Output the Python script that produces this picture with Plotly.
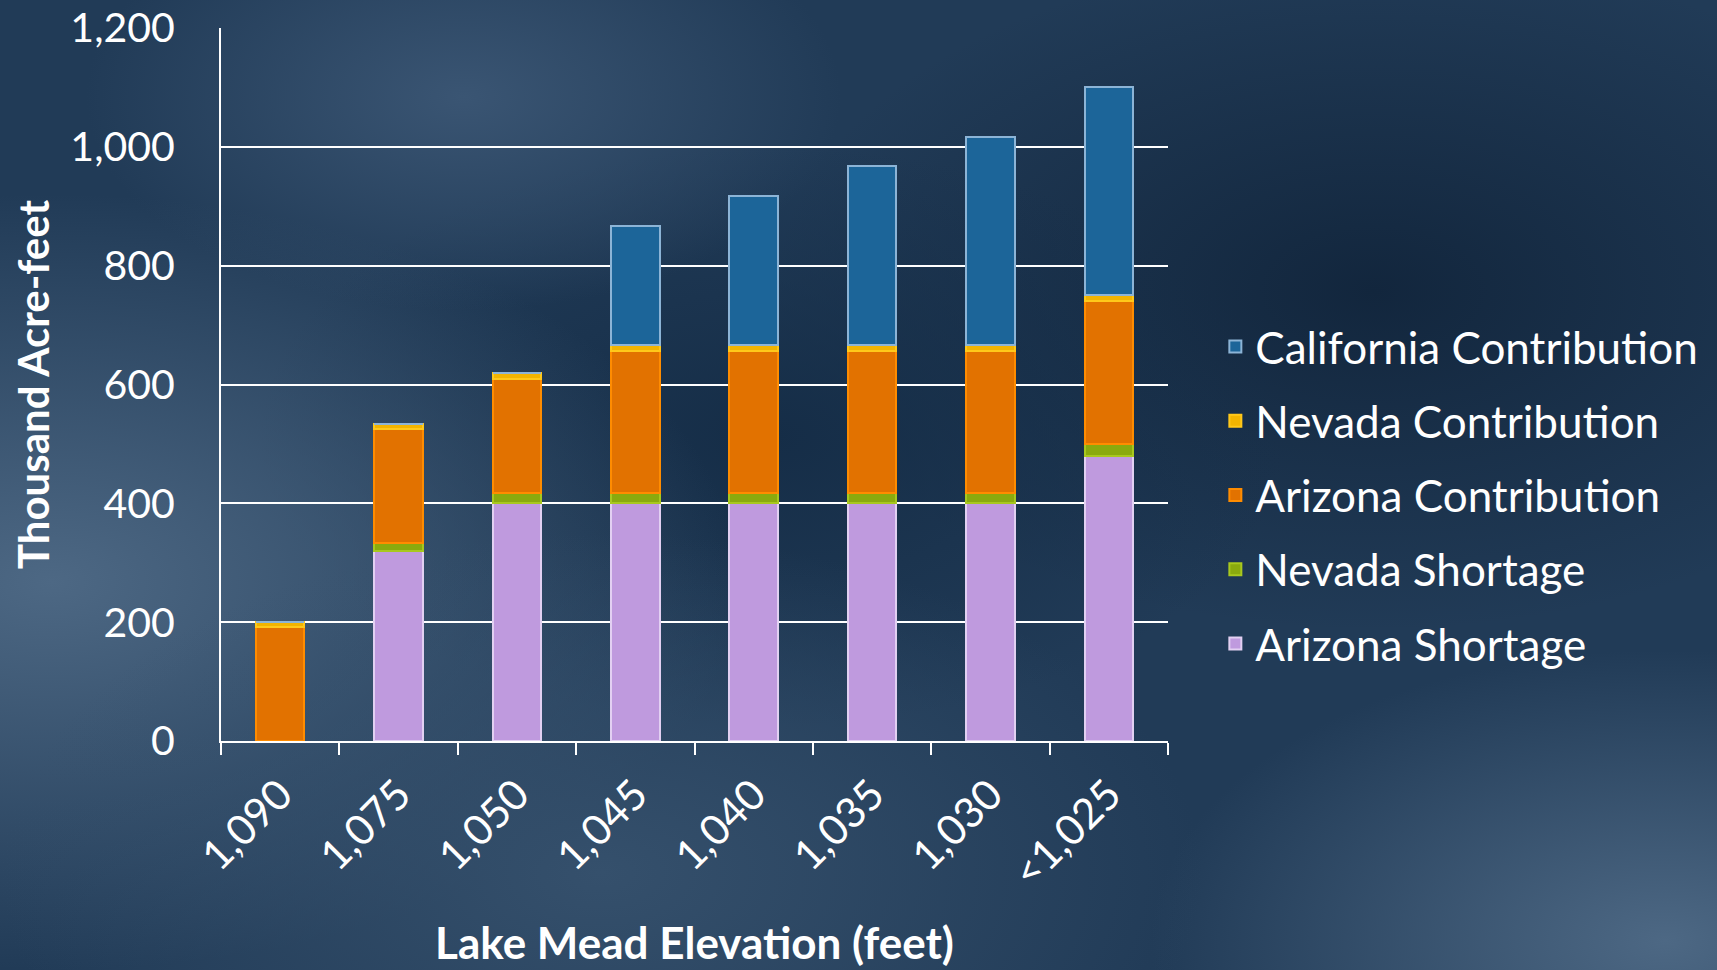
import base64
import plotly.graph_objects as go

categories = ["1,090", "1,075", "1,050", "1,045", "1,040", "1,035", "1,030", "<1,025"]
arizona_shortage = [0, 320, 400, 400, 400, 400, 400, 480]
nevada_shortage = [0, 13, 17, 17, 17, 17, 17, 20]
arizona_contribution = [192, 192, 192, 240, 240, 240, 240, 240]
nevada_contribution = [8, 8, 10, 10, 10, 10, 10, 10]
california_contribution = [0, 0, 0, 200, 250, 300, 350, 350]
y_ticks = [0, 200, 400, 600, 800, 1000, 1200]

series = [
    ("Arizona Shortage", arizona_shortage, "#bf9ade", "#e2d0f2"),
    ("Nevada Shortage", nevada_shortage, "#8aaa0e", "#a8c81e"),
    ("Arizona Contribution", arizona_contribution, "#e27200", "#ff8c00"),
    ("Nevada Contribution", nevada_contribution, "#f2b400", "#ffc81a"),
    ("California Contribution", california_contribution, "#1c6599", "#8cb4d6"),
]

W, H = 1717, 970
ML, MR, MT, MB = 221, 549, 28, 229
PW, PH = W - ML - MR, H - MT - MB

svg = f"""<svg xmlns='http://www.w3.org/2000/svg' width='{W}' height='{H}'>
<defs>
<radialGradient id='a' cx='0.03' cy='0.6' r='0.4'><stop offset='0' stop-color='#4d6884'/><stop offset='1' stop-color='#4d6884' stop-opacity='0'/></radialGradient>
<radialGradient id='b' cx='0.27' cy='0.1' r='0.22'><stop offset='0' stop-color='#3a5573'/><stop offset='1' stop-color='#3a5573' stop-opacity='0'/></radialGradient>
<radialGradient id='c' cx='0.97' cy='0.97' r='0.3'><stop offset='0' stop-color='#4d6884'/><stop offset='1' stop-color='#4d6884' stop-opacity='0'/></radialGradient>
<radialGradient id='d' cx='0.8' cy='0.3' r='0.35'><stop offset='0' stop-color='#12263d'/><stop offset='1' stop-color='#12263d' stop-opacity='0'/></radialGradient>
<radialGradient id='f' cx='0.45' cy='0.45' r='0.3'><stop offset='0' stop-color='#152d47'/><stop offset='1' stop-color='#152d47' stop-opacity='0'/></radialGradient>
<radialGradient id='e' cx='0.35' cy='0.9' r='0.35'><stop offset='0' stop-color='#35506c'/><stop offset='1' stop-color='#35506c' stop-opacity='0'/></radialGradient>
</defs>
<rect width='100%' height='100%' fill='#213b57'/>
<rect width='100%' height='100%' fill='url(#d)'/>
<rect width='100%' height='100%' fill='url(#f)'/>
<rect width='100%' height='100%' fill='url(#a)'/>
<rect width='100%' height='100%' fill='url(#b)'/>
<rect width='100%' height='100%' fill='url(#c)'/>
<rect width='100%' height='100%' fill='url(#e)'/>
</svg>"""
bg_src = "data:image/svg+xml;base64," + base64.b64encode(svg.encode()).decode()

FONT = "Lato"
fig = go.Figure()
n = len(series)
for i, (name, vals, col, line) in enumerate(series):
    fig.add_trace(go.Bar(
        name=name, x=categories, y=vals,
        marker=dict(color=col, line=dict(color=line, width=2)),
        width=0.41, legendgroup=f"g{i}", legendrank=n - i,
    ))

fig.update_layout(
    width=W, height=H,
    barmode="stack",
    paper_bgcolor="#213b57",
    plot_bgcolor="rgba(0,0,0,0)",
    margin=dict(l=ML, r=MR, t=MT, b=MB, autoexpand=False),
    font=dict(family=FONT, color="white"),
    showlegend=True,
    legend=dict(
        x=1.05, xanchor="left", y=0.345, yanchor="middle",
        traceorder="grouped",
        font=dict(size=44, color="white", family=FONT),
        bgcolor="rgba(0,0,0,0)",
        tracegroupgap=14,
    ),
    images=[dict(
        source=bg_src, xref="paper", yref="paper",
        x=-ML / PW, y=1 + MT / PH, sizex=W / PW, sizey=H / PH,
        xanchor="left", yanchor="top", sizing="stretch", layer="below",
    )],
)

fig.update_yaxes(
    range=[0, 1200], tickvals=y_ticks, tickformat=",",
    showgrid=True, gridcolor="white", gridwidth=2,
    showline=True, linecolor="white", linewidth=2,
    ticks="", tickfont=dict(size=41, color="white"),
    ticklabeloverflow="allow", ticklabelstandoff=36,
    zeroline=False, automargin=False,
    title=dict(text="<b>Thousand Acre-feet</b>", font=dict(size=42, color="white"), standoff=8),
)
fig.update_xaxes(
    showline=True, linecolor="white", linewidth=2,
    ticks="outside", tickson="boundaries", ticklen=12, tickcolor="white", tickwidth=2,
    tickangle=-45, tickfont=dict(size=42, color="white"),
    ticklabelstandoff=10, automargin=False,
    title=dict(text="<b>Lake Mead Elevation (feet)</b>", font=dict(size=44, color="white"), standoff=33),
)

fig.write_html(
    "out.html",
    config={"displayModeBar": False},
    post_script="document.body.style.margin='0';document.body.style.background='#213b57';",
)
